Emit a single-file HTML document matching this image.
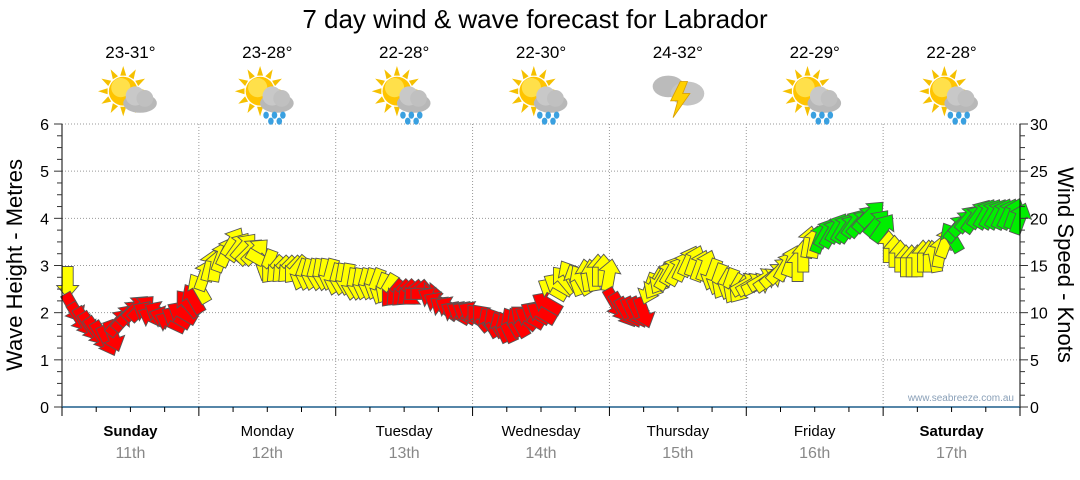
<!DOCTYPE html>
<html><head><meta charset="utf-8"><style>
body{margin:0;background:#fff;width:1080px;height:475px;overflow:hidden;font-family:"Liberation Sans",sans-serif}
</style></head><body>
<svg id="chart" width="1080" height="475" viewBox="0 0 1080 475" xmlns="http://www.w3.org/2000/svg" font-family="Liberation Sans, sans-serif">
<text x="535" y="28" font-size="26" text-anchor="middle" fill="#000">7 day wind &amp; wave forecast for Labrador</text>
<g id="grid"></g>
<g id="icons"></g>
<g id="arrows"></g>
<g id="axes"></g>
<text transform="translate(22,265) rotate(-90)" font-size="22" text-anchor="middle">Wave Height - Metres</text>
<text transform="translate(1058,265) rotate(90)" font-size="22" text-anchor="middle">Wind Speed - Knots</text>
<text x="1014" y="401" font-size="10" text-anchor="end" fill="#8aa0b8">www.seabreeze.com.au</text>
</svg>
<script>
const days=["Sunday","Monday","Tuesday","Wednesday","Thursday","Friday","Saturday"];
const dates=["11th","12th","13th","14th","15th","16th","17th"];
const temps=["23-31°","23-28°","22-28°","22-30°","24-32°","22-29°","22-28°"];
const icons=["cloud","rain","rain","rain","storm","rain","shower"];
const leftTicks=[0,1,2,3,4,5,6];
const rightTicks=[0,5,10,15,20,25,30];
const speed=[13.2,10.5,9.5,9,8.5,8,7.5,7,7.5,9,9.5,10,10.5,10.5,10,9.5,10,9.5,9,9.5,10,11,11.5,12.6,
14,15,15,16,16.5,17.5,17,17,16.5,16.5,15.5,15,14.5,14.5,14.5,14.5,14.5,14,14,14,14,14,14,13.5,
13.5,13.5,13,13,13,13,13,12.5,12.5,12,12,12,12,12,12,12,11.5,11,10.5,10.5,10,10,10,10,
9.5,9.5,9,9,8.5,8.5,9,9,9.5,9.5,10,10,11,12.5,13,13.5,14,13.5,13.5,14,14,14.5,14.5,14,
11,10.5,10,10,10,10,12.5,13,13.5,14,14.5,14.5,15,15.5,15.5,15,15,14,13.5,13,13,12.5,12.5,13,
13,13,13.5,13.5,14,14.5,15,15.5,15,16,17.5,17.5,18,18.5,18.5,19,19,19,19.5,19.5,20,20.5,19.5,19,
17,16.5,16,15.5,15.5,15.5,16,16,16,16.5,17.5,18,19,19.5,20,20,20.5,20.5,20.5,20.5,20.5,20.5,20.5,20];
const dir=[180,150,148,150,148,145,150,155,160,40,40,45,45,45,300,295,300,290,295,300,300,320,330,330,
20,15,10,20,25,30,35,40,45,45,120,200,220,225,225,225,220,200,195,195,190,190,195,195,
190,190,190,190,195,195,200,200,210,220,225,225,230,230,90,90,300,300,305,300,300,300,300,300,
320,320,330,330,335,335,330,330,310,300,300,300,300,300,300,320,330,340,330,350,350,0,0,10,
150,150,150,155,155,160,200,210,210,30,30,30,25,25,20,20,20,200,200,210,200,210,215,60,
60,65,60,55,50,45,30,20,0,0,10,10,20,30,30,30,30,35,35,40,40,45,40,35,
0,0,0,0,0,0,0,0,350,10,20,330,40,45,40,35,35,30,30,30,25,25,20,20];

const NS="http://www.w3.org/2000/svg";
const X0=62,X1=1020,Y0=407,Y1=124;
const hourX=h=>X0+(h+1)*(X1-X0)/168;
const yM=m=>Y0-(m/6)*(Y0-Y1);
const yK=k=>Y0-(k/30)*(Y0-Y1);
function mk(tag,attrs,parent,txt){const e=document.createElementNS(NS,tag);for(const k in attrs)e.setAttribute(k,attrs[k]);if(txt!==undefined)e.textContent=txt;parent.appendChild(e);return e;}
const grid=document.getElementById('grid'),axes=document.getElementById('axes'),ic=document.getElementById('icons'),ar=document.getElementById('arrows');
const dayW=(X1-X0)/7;
leftTicks.forEach(v=>{if(v>0){const l=mk('line',{x1:X0,x2:X1,y1:yM(v),y2:yM(v),stroke:'#999','stroke-dasharray':'1,2'},grid);

}});
for(let d=1;d<7;d++){const l=mk('line',{x1:X0+d*dayW,x2:X0+d*dayW,y1:Y1,y2:Y0,stroke:'#999','stroke-dasharray':'1,2'},grid);

}
mk('line',{x1:X0,x2:X0,y1:Y1,y2:Y0,stroke:'#000'},axes);
mk('line',{x1:X1,x2:X1,y1:Y1,y2:Y0,stroke:'#000'},axes);
mk('line',{x1:X0,x2:X1,y1:Y0,y2:Y0,stroke:'#1f5f8b','stroke-width':1.5},axes);
for(let i=0;i<=24;i++){const y=Y0-i*(Y0-Y1)/24;const maj=i%4===0;
mk('line',{x1:X0-(maj?8:5),x2:X0,y1:y,y2:y,stroke:'#333'},axes);
mk('line',{x1:X1,x2:X1+(maj?8:5),y1:y,y2:y,stroke:'#333'},axes);}
leftTicks.forEach(v=>{const t=mk('text',{x:X0-13,y:yM(v)+6,'font-size':16,'text-anchor':'end'},axes,String(v));

});
rightTicks.forEach(v=>{const t=mk('text',{x:X1+10,y:yK(v)+6,'font-size':16},axes,String(v));

});
for(let i=0;i<=28;i++){const x=X0+i*dayW/4;mk('line',{x1:x,x2:x,y1:Y0,y2:Y0+(i%4===0?9:5),stroke:'#000'},axes);}
days.forEach((d,i)=>{const cx=X0+(i+0.5)*dayW;const bold=(i===0||i===6);
const t=mk('text',{x:cx,y:436,'font-size':15,'text-anchor':'middle','font-weight':bold?'bold':'normal'},axes,d);


const t2=mk('text',{x:cx,y:458,'font-size':16,'text-anchor':'middle',fill:'#888'},axes,dates[i]);


const t3=mk('text',{x:cx,y:58,'font-size':17,'text-anchor':'middle'},ic,temps[i]);


const g=mk('g',{transform:`translate(${cx},96) scale(1.2)`},ic);


const type=icons[i];
if(type!=='storm'){for(let r=0;r<12;r++){const a=r*30;mk('polygon',{points:'-2.5,-13 2.5,-13 0,-21',fill:'#f5c000',transform:`translate(-6,-4) rotate(${a})`},g);}
mk('circle',{cx:-6,cy:-4,r:12,fill:'#ffc400'},g);mk('circle',{cx:-8,cy:-7,r:8,fill:'#ffe04a'},g);
mk('ellipse',{cx:8,cy:6,rx:14,ry:8,fill:'#b8b8b8'},g);mk('circle',{cx:4,cy:0,r:8,fill:'#c8c8c8'},g);mk('circle',{cx:12,cy:2,r:7,fill:'#c0c0c0'},g);
if(type==='rain'||type==='shower'){[[-1,16],[6,16],[13,16],[3,21],[10,21]].forEach(p=>mk('ellipse',{cx:p[0],cy:p[1],rx:2.3,ry:3,fill:'#3aa0e0'},g));}
}else{mk('ellipse',{cx:-8,cy:-8,rx:13,ry:9,fill:'#bbb'},g);mk('ellipse',{cx:8,cy:-2,rx:14,ry:10,fill:'#c4c4c4'},g);
mk('polygon',{points:'2,-12 -6,4 0,4 -4,18 10,-2 4,-2 8,-12',fill:'#ffd000',stroke:'#d9a000','stroke-width':0.7},g);}
});
const colour=k=>k>=18?'#00ee00':(k>=12.5?'#ffff00':'#ff0000');
speed.forEach((k,h)=>{const x=hourX(h),y=yK(k);
const p=mk('polygon',{points:'0,-16 11,-3 5.5,-3 5.5,16 -5.5,16 -5.5,-3 -11,-3',fill:colour(k),stroke:'#555','stroke-width':0.9,transform:`translate(${x.toFixed(1)},${y.toFixed(1)}) rotate(${dir[h]})`},ar);

});
</script>
</body></html>
